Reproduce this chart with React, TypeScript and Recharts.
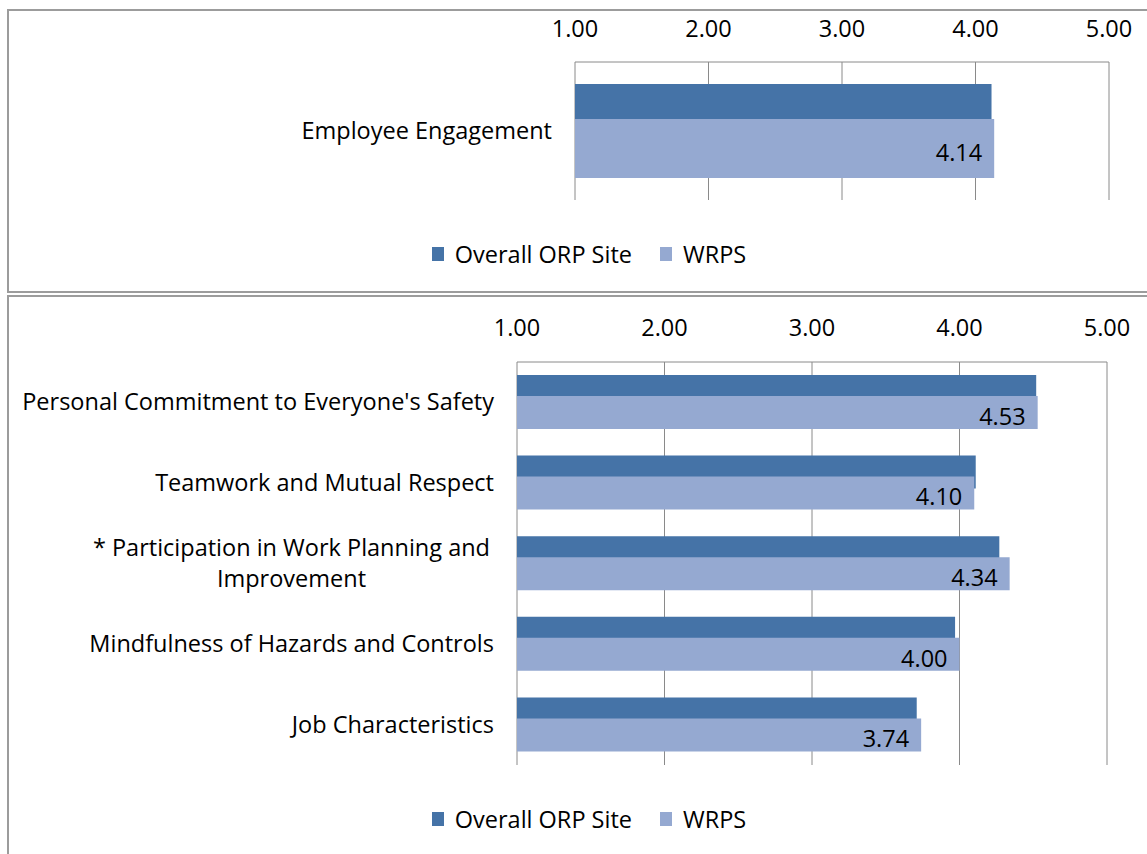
import React from 'react'
import {
  BarChart,
  Bar,
  XAxis,
  YAxis,
  CartesianGrid,
  LabelList,
} from 'recharts'

const topCategories = ['Employee Engagement']
const topOverall = [4.12]
const topWrps = [4.14]

const bottomCategories = [
  "Personal Commitment to Everyone's Safety",
  'Teamwork and Mutual Respect',
  '* Participation in Work Planning and\nImprovement',
  'Mindfulness of Hazards and Controls',
  'Job Characteristics',
]
const bottomOverall = [4.52, 4.11, 4.27, 3.97, 3.71]
const bottomWrps = [4.53, 4.1, 4.34, 4.0, 3.74]

const scoreTicks = [1, 2, 3, 4, 5]
const seriesNames = ['Overall ORP Site', 'WRPS']

const DARK = '#4573A7'
const LIGHT = '#95A9D1'
const GRID = '#8a8a8a'
const FONT = '"Open Sans", "Noto Sans", sans-serif'
const FONT_SIZE = 23.5

const buildRows = (cats: string[], a: number[], b: number[]) =>
  cats.map((name, i) => ({ name, overall: a[i], wrps: b[i] }))

let measureCtx: CanvasRenderingContext2D | null = null
const textWidth = (s: string) => {
  if (!measureCtx) {
    measureCtx = document.createElement('canvas').getContext('2d')
  }
  if (!measureCtx) return s.length * 11
  measureCtx.font = `${FONT_SIZE}px ${FONT}`
  return measureCtx.measureText(s).width
}

const CategoryTick = (props: any) => {
  const { x, y, payload } = props
  const lines: string[] = String(payload.value).split('\n')
  const lineHeight = 31
  const widest = Math.max(...lines.map(textWidth))
  const cx = x - 4 - widest / 2
  const startY = y - ((lines.length - 1) * lineHeight) / 2
  return (
    <g>
      {lines.map((line, i) => (
        <text
          key={i}
          x={lines.length > 1 ? cx : x}
          y={startY + i * lineHeight}
          dy={8}
          textAnchor={lines.length > 1 ? 'middle' : 'end'}
          fontFamily={FONT}
          fontSize={FONT_SIZE}
          fill="#000"
        >
          {line}
        </text>
      ))}
    </g>
  )
}

const LegendRow = ({ top, center }: { top: number; center: number }) => (
  <div
    style={{
      position: 'absolute',
      top,
      left: center - 300,
      width: 600,
      display: 'flex',
      justifyContent: 'center',
      alignItems: 'center',
      fontFamily: FONT,
      fontSize: FONT_SIZE,
      color: '#000',
    }}
  >
    {seriesNames.map((n, i) => (
      <div key={n} style={{ display: 'flex', alignItems: 'center', marginLeft: i ? 28 : 0 }}>
        <div style={{ width: 12, height: 14, background: i ? LIGHT : DARK, marginRight: 11 }} />
        <span>{n}</span>
      </div>
    ))}
  </div>
)

interface PanelProps {
  rows: { name: string; overall: number; wrps: number }[]
  height: number
  axisWidth: number
  marginTop: number
  marginRight: number
  marginBottom: number
  categoryGap: number
  barGap: number
  tickGap: number
}

const ScorePanel: React.FC<PanelProps> = ({
  rows, height, axisWidth, marginTop, marginRight, marginBottom, categoryGap, barGap, tickGap,
}) => (
  <BarChart
    width={1147}
    height={height}
    data={rows}
    layout="vertical"
    margin={{ top: 0, right: marginRight, bottom: marginBottom, left: 0 }}
    barCategoryGap={categoryGap}
    barGap={barGap}
  >
    <CartesianGrid horizontal={false} stroke={GRID} strokeWidth={1} />
    <XAxis
      type="number"
      orientation="top"
      domain={[1, 5]}
      ticks={scoreTicks}
      height={marginTop}
      tickFormatter={(v: number) => v.toFixed(2)}
      axisLine={{ stroke: GRID }}
      tickLine={false}
      tickMargin={tickGap}
      tick={{ fontFamily: FONT, fontSize: FONT_SIZE, fill: '#000' }}
    />
    <YAxis
      type="category"
      dataKey="name"
      width={axisWidth}
      axisLine={false}
      tickLine={false}
      tickMargin={17}
      tick={<CategoryTick />}
      interval={0}
    />
    <Bar dataKey="overall" fill={DARK} isAnimationActive={false} />
    <Bar dataKey="wrps" fill={LIGHT} isAnimationActive={false}>
      <LabelList
        dataKey="wrps"
        position="insideRight"
        offset={12}
        formatter={(v: any) => Number(v).toFixed(2)}
        style={{ fontFamily: FONT, fontSize: FONT_SIZE, fill: '#000' }}
        dy={4}
      />
    </Bar>
  </BarChart>
)

export default function App() {
  const topRows = buildRows(topCategories, topOverall, topWrps)
  const bottomRows = buildRows(bottomCategories, bottomOverall, bottomWrps)
  return (
    <div
      style={{
        position: 'absolute',
        left: 0,
        top: 0,
        width: 1147,
        height: 854,
        overflow: 'hidden',
        background: '#fff',
      }}
    >
      <div
        style={{
          position: 'absolute',
          left: 7,
          top: 9,
          width: 1200,
          height: 284,
          border: '2px solid #9c9c9c',
          boxSizing: 'border-box',
        }}
      />
      <div
        style={{
          position: 'absolute',
          left: 7,
          top: 295,
          width: 1200,
          height: 600,
          border: '2px solid #9c9c9c',
          boxSizing: 'border-box',
        }}
      />
      <div style={{ position: 'absolute', left: 0, top: 0 }}>
        <ScorePanel
          rows={topRows}
          height={293}
          axisWidth={575}
          marginTop={62}
          marginRight={38}
          marginBottom={93}
          categoryGap={22}
          barGap={-24}
          tickGap={19}
        />
      </div>
      <LegendRow top={238} center={589} />
      <div style={{ position: 'absolute', left: 0, top: 296 }}>
        <ScorePanel
          rows={bottomRows}
          height={558}
          axisWidth={517}
          marginTop={66}
          marginRight={40}
          marginBottom={89}
          categoryGap={13}
          barGap={-12}
          tickGap={20}
        />
      </div>
      <LegendRow top={803} center={589} />
    </div>
  )
}
